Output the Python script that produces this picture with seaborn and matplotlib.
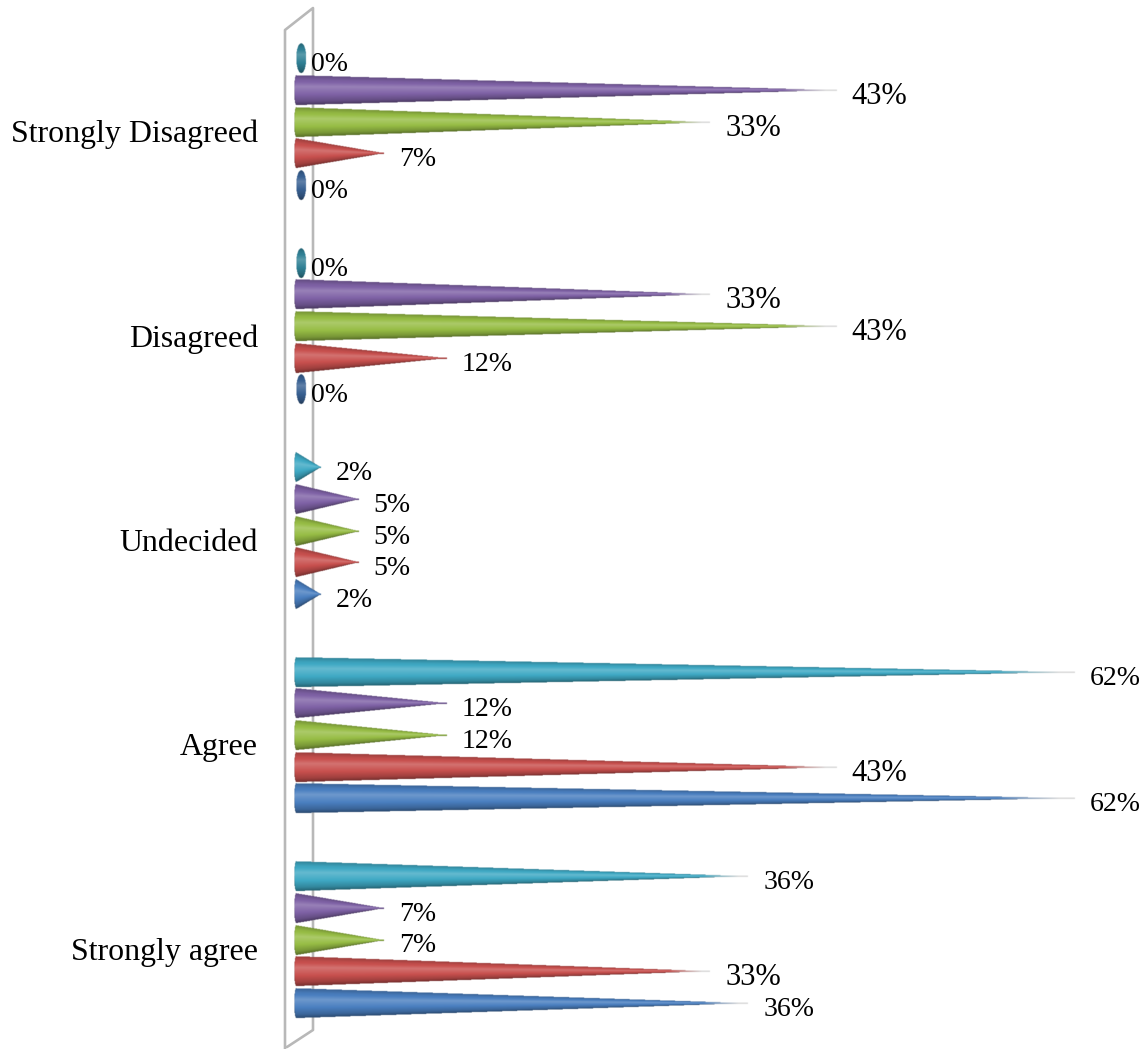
import numpy as np
import pandas as pd
import matplotlib
matplotlib.use("Agg")
import matplotlib.pyplot as plt
from matplotlib.colors import to_rgb
from matplotlib.lines import Line2D
import seaborn as sns

# Survey responses, listed from the top row of the chart to the bottom
categories = ["Strongly Disagreed", "Disagreed", "Undecided", "Agree", "Strongly agree"]
series_names = ["Series 5", "Series 4", "Series 3", "Series 2", "Series 1"]
series_5 = [0, 0, 2, 62, 36]
series_4 = [43, 33, 5, 12, 7]
series_3 = [33, 43, 5, 12, 7]
series_2 = [7, 12, 5, 43, 33]
series_1 = [0, 0, 2, 62, 36]
series_values = [series_5, series_4, series_3, series_2, series_1]
series_colors = ["#3fa9c4", "#7f62a6", "#97bd45", "#c8504e", "#4a7fc0"]

W, H = 1148, 1049
DPI = 100
ORIGIN_PX = 296
PX_PER_PCT = 12.56
ROW_PX = 204.5
TOP_PX = 19.75
TICK_SHIFT_PX = 9

sns.set_theme(style="white")
plt.rcParams["font.family"] = ["Liberation Serif", "DejaVu Serif"]

df = pd.DataFrame({
    "category": np.tile(categories, len(series_names)),
    "series": np.repeat(series_names, len(categories)),
    "value": np.concatenate(series_values),
})

fig = plt.figure(figsize=(W / DPI, H / DPI), dpi=DPI, facecolor="white")
ax = fig.add_axes([ORIGIN_PX / W, 0, 1 - ORIGIN_PX / W, 1 - TOP_PX / H])
ax.patch.set_visible(False)

sns.barplot(data=df, y="category", x="value", hue="series", order=categories,
            hue_order=series_names, orient="h", width=0.775, dodge=True,
            legend=False, ax=ax)

xlim = (0, (W - ORIGIN_PX) / PX_PER_PCT)
ylim = (-0.5 + (H - TOP_PX) / ROW_PX, -0.5)
ax.set_xlim(*xlim)
ax.set_ylim(*ylim)


def shade(v):
    """Brightness across a cone: v=-1 at the upper edge, v=1 at the lower edge."""
    return np.interp(v, [-1, -0.7, -0.25, 0.3, 0.75, 1], [0.78, 0.96, 1.09, 1.0, 0.8, 0.58])


def paint(color, shade_v, mask, fade):
    rgb = np.array(to_rgb(color))
    s = shade(shade_v)[..., None]
    img = np.where(s > 1, rgb + (1 - rgb) * (s - 1) * 2.2, rgb * s)
    tip = np.array([0.86, 0.86, 0.86])
    img = img * (1 - fade[..., None]) + tip * fade[..., None]
    return np.dstack([np.clip(img, 0, 1), mask.astype(float)])


def draw_cone(bar, color, value):
    yc = bar.get_y() + bar.get_height() / 2
    half = bar.get_height() * 0.47
    half_px = half * ROW_PX
    SS = 2
    if value == 0:
        # A zero-height cone shows only its elliptical base
        rx = 5.0
        xs = np.arange(-1, 2 * rx + 1, 1 / SS)
        ys = np.arange(-half_px - 1, half_px + 1, 1 / SS)
        X, Y = np.meshgrid(xs, ys)
        mask = ((X - rx) / rx) ** 2 + (Y / half_px) ** 2 <= 1
        v = np.clip(Y / half_px, -1, 1)
        rgba = paint(np.array(to_rgb(color)) * 0.76, v, mask, np.zeros_like(X))
    else:
        length = value * PX_PER_PCT
        rx = 2.0
        xs = np.arange(-rx - 1, length + 1, 1 / SS)
        ys = np.arange(-half_px - 1, half_px + 1, 1 / SS)
        X, Y = np.meshgrid(xs, ys)
        r = half_px * np.clip(1 - X / length, 0, None)
        r = np.where(X < 0, half_px * np.sqrt(np.clip(1 - (X / rx) ** 2, 0, 1)), r)
        # Keep the narrow tip at least a hair thick so it stays visible
        r = np.maximum(r, np.where((X >= 0) & (X <= length), 0.7, 0))
        mask = np.abs(Y) <= r
        v = np.clip(Y / np.maximum(r, 1e-6), -1, 1)
        fade = np.clip((X / length - 0.90) / 0.08, 0, 1) * (value > 20)
        rgba = paint(color, v, mask, fade)
    extent = (xs[0] / PX_PER_PCT, xs[-1] / PX_PER_PCT,
              yc + ys[-1] / ROW_PX, yc + ys[0] / ROW_PX)
    ax.imshow(rgba, extent=extent, origin="upper", aspect="auto",
              interpolation="bilinear", zorder=3, clip_on=False)


def label_size(value):
    if value in (33, 43):
        return 22
    return 20


# Replace the flat bars with shaded cones and label each tip
for container, color in zip(ax.containers, series_colors):
    for bar, value in zip(container, container.datavalues):
        bar.set_visible(False)
        draw_cone(bar, color, value)
        ax.annotate(f"{value:.0f}%",
                    xy=(value, bar.get_y() + bar.get_height() / 2),
                    xytext=(15 * 72 / DPI, -6 * 72 / DPI), textcoords="offset points",
                    ha="left", va="center", fontsize=label_size(value),
                    color="black", zorder=5, annotation_clip=False)

ax.set_xlim(*xlim)
ax.set_ylim(*ylim)
ax.set_xlabel("")
ax.set_ylabel("")
ax.set_xticks([])
ax.set_yticks(np.arange(len(categories)) + TICK_SHIFT_PX / ROW_PX, categories)
ax.tick_params(axis="y", length=0, pad=38 * 72 / DPI, labelsize=22.95, labelcolor="black")
sns.despine(ax=ax, left=True, bottom=True)

# Grey side wall of the 3-D plot area, behind the cones
wall_color = "#b8b8b8"
wall_x_px = (285, 285, 313, 313, 287)
wall_y_px = (1049, 30, 8, 1030, 1047)
fig.add_artist(Line2D([x / W for x in wall_x_px], [1 - y / H for y in wall_y_px],
                      color=wall_color, lw=2.6 * 72 / DPI, zorder=-1,
                      solid_joinstyle="round"))

fig.savefig("out.png", dpi=DPI, facecolor="white")
